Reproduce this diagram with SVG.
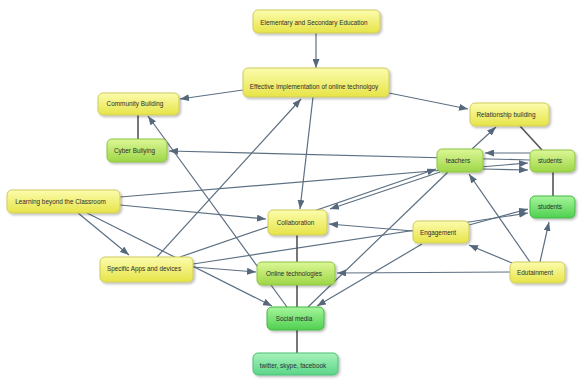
<svg xmlns="http://www.w3.org/2000/svg" width="580" height="382" viewBox="0 0 580 382">
<defs>
<linearGradient id="gy" x1="0" y1="0" x2="0" y2="1"><stop offset="0" stop-color="#fcfcae"/><stop offset="1" stop-color="#e6e447"/></linearGradient>
<linearGradient id="gl" x1="0" y1="0" x2="0" y2="1"><stop offset="0" stop-color="#dcf797"/><stop offset="1" stop-color="#9dd646"/></linearGradient>
<linearGradient id="gg" x1="0" y1="0" x2="0" y2="1"><stop offset="0" stop-color="#a6f59c"/><stop offset="1" stop-color="#4fd04f"/></linearGradient>
<linearGradient id="ge" x1="0" y1="0" x2="0" y2="1"><stop offset="0" stop-color="#a8f2ba"/><stop offset="1" stop-color="#5ad688"/></linearGradient>
<filter id="sh" x="-20%" y="-30%" width="140%" height="170%"><feDropShadow dx="1.5" dy="1.5" stdDeviation="1.2" flood-color="#000" flood-opacity="0.28"/></filter>
<marker id="ah" markerUnits="userSpaceOnUse" markerWidth="9" markerHeight="7" refX="9" refY="3.5" orient="auto"><path d="M0,0 L9,3.5 L0,7 z" fill="#56697c"/></marker>
</defs>
<style>
.c{stroke:#5c6f82;stroke-width:1.2;fill:none}
.a{marker-end:url(#ah)}
.p{stroke:#555;stroke-width:1.6;fill:none}
.n rect{rx:5;ry:5;stroke-width:1;filter:url(#sh)}
.y rect{fill:url(#gy);stroke:#cfcc5c}
.l rect{fill:url(#gl);stroke:#8cc444}
.g rect{fill:url(#gg);stroke:#46b846}
.e rect{fill:url(#ge);stroke:#4fbf78}
.n text{font-family:"Liberation Sans",Arial,sans-serif;font-size:6.4px;fill:#2e2e2e;text-anchor:middle}
</style>
<rect width="580" height="382" fill="#fff"/>
<g id="connectors">
<line class="c a" x1="316" y1="33" x2="316" y2="68"/>
<line class="c a" x1="243" y1="90" x2="180" y2="99"/>
<line class="c a" x1="389" y1="93" x2="468" y2="109"/>
<line class="c a" x1="313" y1="97" x2="300" y2="209"/>
<line class="c a" x1="157" y1="257" x2="301" y2="99"/>
<line class="c a" x1="287" y1="307" x2="148" y2="116"/>
<line class="p" x1="138" y1="115" x2="138" y2="139"/>
<line class="c a" x1="530" y1="160" x2="169" y2="151"/>
<line class="c a" x1="120" y1="197" x2="528" y2="163"/>
<line class="c a" x1="120" y1="205" x2="266" y2="219"/>
<line class="c a" x1="78" y1="213" x2="129" y2="255"/>
<line class="c a" x1="87" y1="213" x2="272" y2="306"/>
<line class="c a" x1="180" y1="257" x2="436" y2="169"/>
<line class="c a" x1="440" y1="172" x2="330" y2="209"/>
<line class="c a" x1="193" y1="267" x2="256" y2="272"/>
<line class="c a" x1="193" y1="264" x2="528" y2="213"/>
<line class="c a" x1="469" y1="225" x2="528" y2="209"/>
<line class="c a" x1="413" y1="231" x2="329" y2="224"/>
<line class="c a" x1="422" y1="244" x2="317" y2="306"/>
<line class="c" x1="448" y1="172" x2="308" y2="307"/>
<line class="c a" x1="530" y1="262" x2="469" y2="174"/>
<line class="c a" x1="540" y1="262" x2="549" y2="222"/>
<line class="c a" x1="512" y1="263" x2="469" y2="245"/>
<line class="c a" x1="510" y1="272" x2="337" y2="273"/>
<line class="p" x1="297" y1="235" x2="297" y2="262"/>
<line class="p" x1="297" y1="285" x2="297" y2="307"/>
<line class="p" x1="297" y1="330" x2="297" y2="353"/>
<line class="c a" x1="530" y1="153" x2="485" y2="153"/>
<line class="c a" x1="483" y1="169" x2="528" y2="170"/>
<line class="c a" x1="472" y1="149" x2="496" y2="127"/>
<line class="p" x1="542" y1="150" x2="520" y2="126"/>
<line class="p" x1="553" y1="172" x2="553" y2="196"/>
</g>
<g id="n-elementary" class="n y"><rect x="253" y="10" width="127" height="23"/><text x="314" y="24.5">Elementary and Secondary Education</text></g>
<g id="n-effective" class="n y"><rect x="243" y="68" width="146" height="29"/><text x="314" y="89">Effective Implementation of online technolgoy</text></g>
<g id="n-community" class="n y"><rect x="98" y="93" width="81" height="22"/><text x="135" y="106">Community Building</text></g>
<g id="n-cyber" class="n l"><rect x="107" y="139" width="60" height="23"/><text x="134.5" y="152.5">Cyber Bullying</text></g>
<g id="n-relationship" class="n y"><rect x="470" y="103" width="79" height="23"/><text x="506" y="116.5">Relationship building</text></g>
<g id="n-teachers" class="n l"><rect x="437" y="149" width="46" height="23"/><text x="458" y="162.5">teachers</text></g>
<g id="n-students1" class="n l"><rect x="530" y="150" width="45" height="22"/><text x="550" y="162.5">students</text></g>
<g id="n-students2" class="n g"><rect x="530" y="196" width="45" height="22"/><text x="550" y="208.5">students</text></g>
<g id="n-learning" class="n y"><rect x="7" y="190" width="113" height="23"/><text x="60.5" y="204">Learning beyond the Classroom</text></g>
<g id="n-apps" class="n y"><rect x="100" y="257" width="93" height="25"/><text x="144" y="270.5">Specific Apps and devices</text></g>
<g id="n-collaboration" class="n y"><rect x="268" y="210" width="59" height="25"/><text x="295.5" y="224.5">Collaboration</text></g>
<g id="n-online" class="n l"><rect x="257" y="262" width="78" height="23"/><text x="294" y="275.5">Online technologies</text></g>
<g id="n-social" class="n g"><rect x="267" y="307" width="57" height="23"/><text x="294" y="320.5">Social media</text></g>
<g id="n-twitter" class="n e"><rect x="253" y="353" width="85" height="22"/><text x="293" y="368">twitter, skype, facebook</text></g>
<g id="n-engagement" class="n y"><rect x="413" y="221" width="56" height="22"/><text x="438" y="235">Engagement</text></g>
<g id="n-edutainment" class="n y"><rect x="510" y="262" width="55" height="21"/><text x="535" y="275">Edutainment</text></g>
</svg>
